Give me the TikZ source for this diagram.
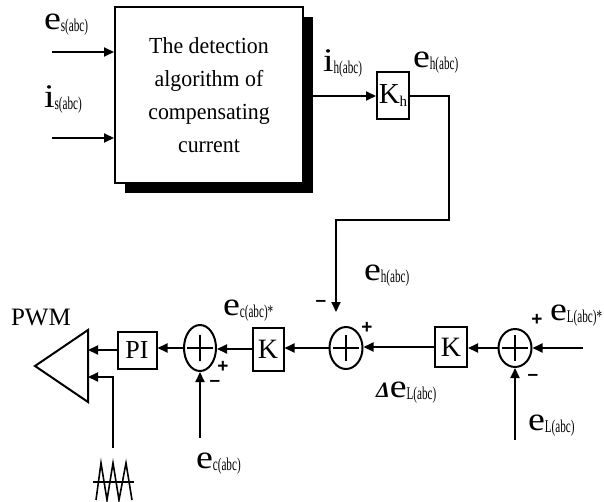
\documentclass[tikz,border=0pt]{standalone}
\usepackage{fontspec}
\setmainfont{Liberation Serif}
\newfontfamily\signfont{Liberation Sans}
\usepackage{graphicx}
\usetikzlibrary{arrows.meta,shapes.geometric}
\newcommand{\lab}[2]{\scalebox{1.15}[1]{\fontsize{33}{33}\selectfont #1}\raisebox{-2pt}{\scalebox{0.62}[1]{\fontsize{18}{18}\selectfont #2}}}
\begin{document}
\begin{tikzpicture}[x=1pt,y=-1pt, line width=2pt,
  arr/.style={-{Triangle[length=10pt,width=9pt]}, line width=2pt},
  blk/.style={draw, line width=2pt, fill=white, inner sep=0pt},
  sumnode/.style={ellipse, draw, line width=2pt, minimum width=33pt, minimum height=42pt, inner sep=0pt},
  lbl/.style={anchor=base west, inner sep=0pt},
  sgn/.style={inner sep=0pt, font=\signfont\bfseries\fontsize{19}{19}\selectfont}]
\useasboundingbox (0,0) rectangle (604,502);

% detection block with shadow
\fill[black] (125,17) rectangle (313,193);
\node[blk, minimum width=188pt, minimum height=176pt, align=center, font=\fontsize{23}{33}\selectfont] (det) at (209,95) {\scalebox{0.95}[1]{The detection}\\\scalebox{0.95}[1]{algorithm of}\\\scalebox{0.95}[1]{compensating}\\\scalebox{0.95}[1]{current}};

% gain Kh
\node[blk, minimum width=32pt, minimum height=47pt] (kh) at (393,96) {\fontsize{29}{29}\selectfont K\raisebox{-3pt}{\fontsize{15}{15}\selectfont h}};

% summers and blocks
\node[sumnode] (s1) at (346,348) {};
\node[sumnode, minimum height=38pt] (s2) at (515,348) {};
\node[sumnode, minimum width=32pt, minimum height=46pt] (s3) at (200,348) {};
\node[blk, minimum width=32pt, minimum height=40pt, font=\fontsize{28}{28}\selectfont] (k2) at (451,347) {K};
\node[blk, minimum width=31pt, minimum height=43pt, font=\fontsize{28}{28}\selectfont] (k1) at (268,349) {K};
\node[blk, minimum width=39pt, minimum height=37pt, font=\fontsize{26}{26}\selectfont] (pi) at (137,350) {PI};

\foreach \s in {s1,s2,s3}{
  \draw ([xshift=-13pt]\s.center) -- ([xshift=13pt]\s.center);
  \draw ([yshift=-13pt]\s.center) -- ([yshift=13pt]\s.center);
}

% comparator triangle
\draw (88,330) -- (35,366) -- (88,402) -- cycle;
\coordinate (t1) at (88,348);
\coordinate (t2) at (88,377);

% carrier symbol
\draw[line width=1.6pt] (96,500) -- (101,463) -- (107,500) -- (113,463) -- (119,500) -- (126,463) -- (132,500);
\draw[line width=1.6pt] (93,482) -- (134,482);

% free ends
\coordinate (esin) at (52,52);
\coordinate (isin) at (52,138);
\coordinate (c1) at (449,220);
\coordinate (c2) at (336,220);
\coordinate (fb) at (336,312);
\coordinate (elin) at (583,348);
\coordinate (elb) at (515,440);
\coordinate (ecb) at (200,438);
\coordinate (sawtop) at (113,448);

% connectors
\draw[arr] (esin) -- (esin -| det.west);
\draw[arr] (isin) -- (isin -| det.west);
\draw[arr] (det.east |- kh) -- (kh.west);
\draw[arr] (kh.east) -| (c1) -- (c2) -- (fb);
\draw[arr] (elin) -- (s2.east);
\draw[arr] (elb) -- (s2.south);
\draw[arr] (s2.west) -- (s2.west -| k2.east);
\draw[arr] (k2.west) -- (k2.west -| s1.east);
\draw[arr] (s1.west) -- (s1.west -| k1.east);
\draw[arr] (k1.west) -- (k1.west -| s3.east);
\draw[arr] (ecb) -- (s3.south);
\draw[arr] (s3.west) -- (s3.west -| pi.east);
\draw[arr] (pi.west) -- (t1 |- pi.west);
\draw[arr] (sawtop) |- (t2);

% signs
\node[sgn] at (321,303) {–};
\node[sgn] at (367,328) {+};
\node[sgn] at (537,320) {+};
\node[sgn] at (533,377) {–};
\node[sgn] at (223,367) {+};
\node[sgn] at (215,383) {–};

% labels
\node[lbl] (les) at (43,30) {\lab{e}{s(abc)}};
\node[lbl] (lis) at (43,108) {\lab{i}{s(abc)}};
\node[lbl] (lih) at (322,72) {\lab{i}{h(abc)}};
\node[lbl] (leh) at (412,68) {\lab{e}{h(abc)}};
\node[lbl] (leh2) at (363,280) {\lab{e}{h(abc)}};
\node[lbl] (lels) at (549,320) {\lab{e}{L(abc)*}};
\node[lbl] (lel) at (527,430) {\lab{e}{L(abc)}};
\node[lbl] (ldel) at (375,397) {{\fontsize{22}{22}\selectfont\bfseries\itshape Δ}\lab{e}{L(abc)}};
\node[lbl] (lecs) at (222,315) {\lab{e}{c(abc)*}};
\node[lbl] (lec) at (195,468) {\lab{e}{c(abc)}};
\node[lbl] (pwm) at (10,325) {\fontsize{25}{25}\selectfont PWM};
\end{tikzpicture}
\end{document}
